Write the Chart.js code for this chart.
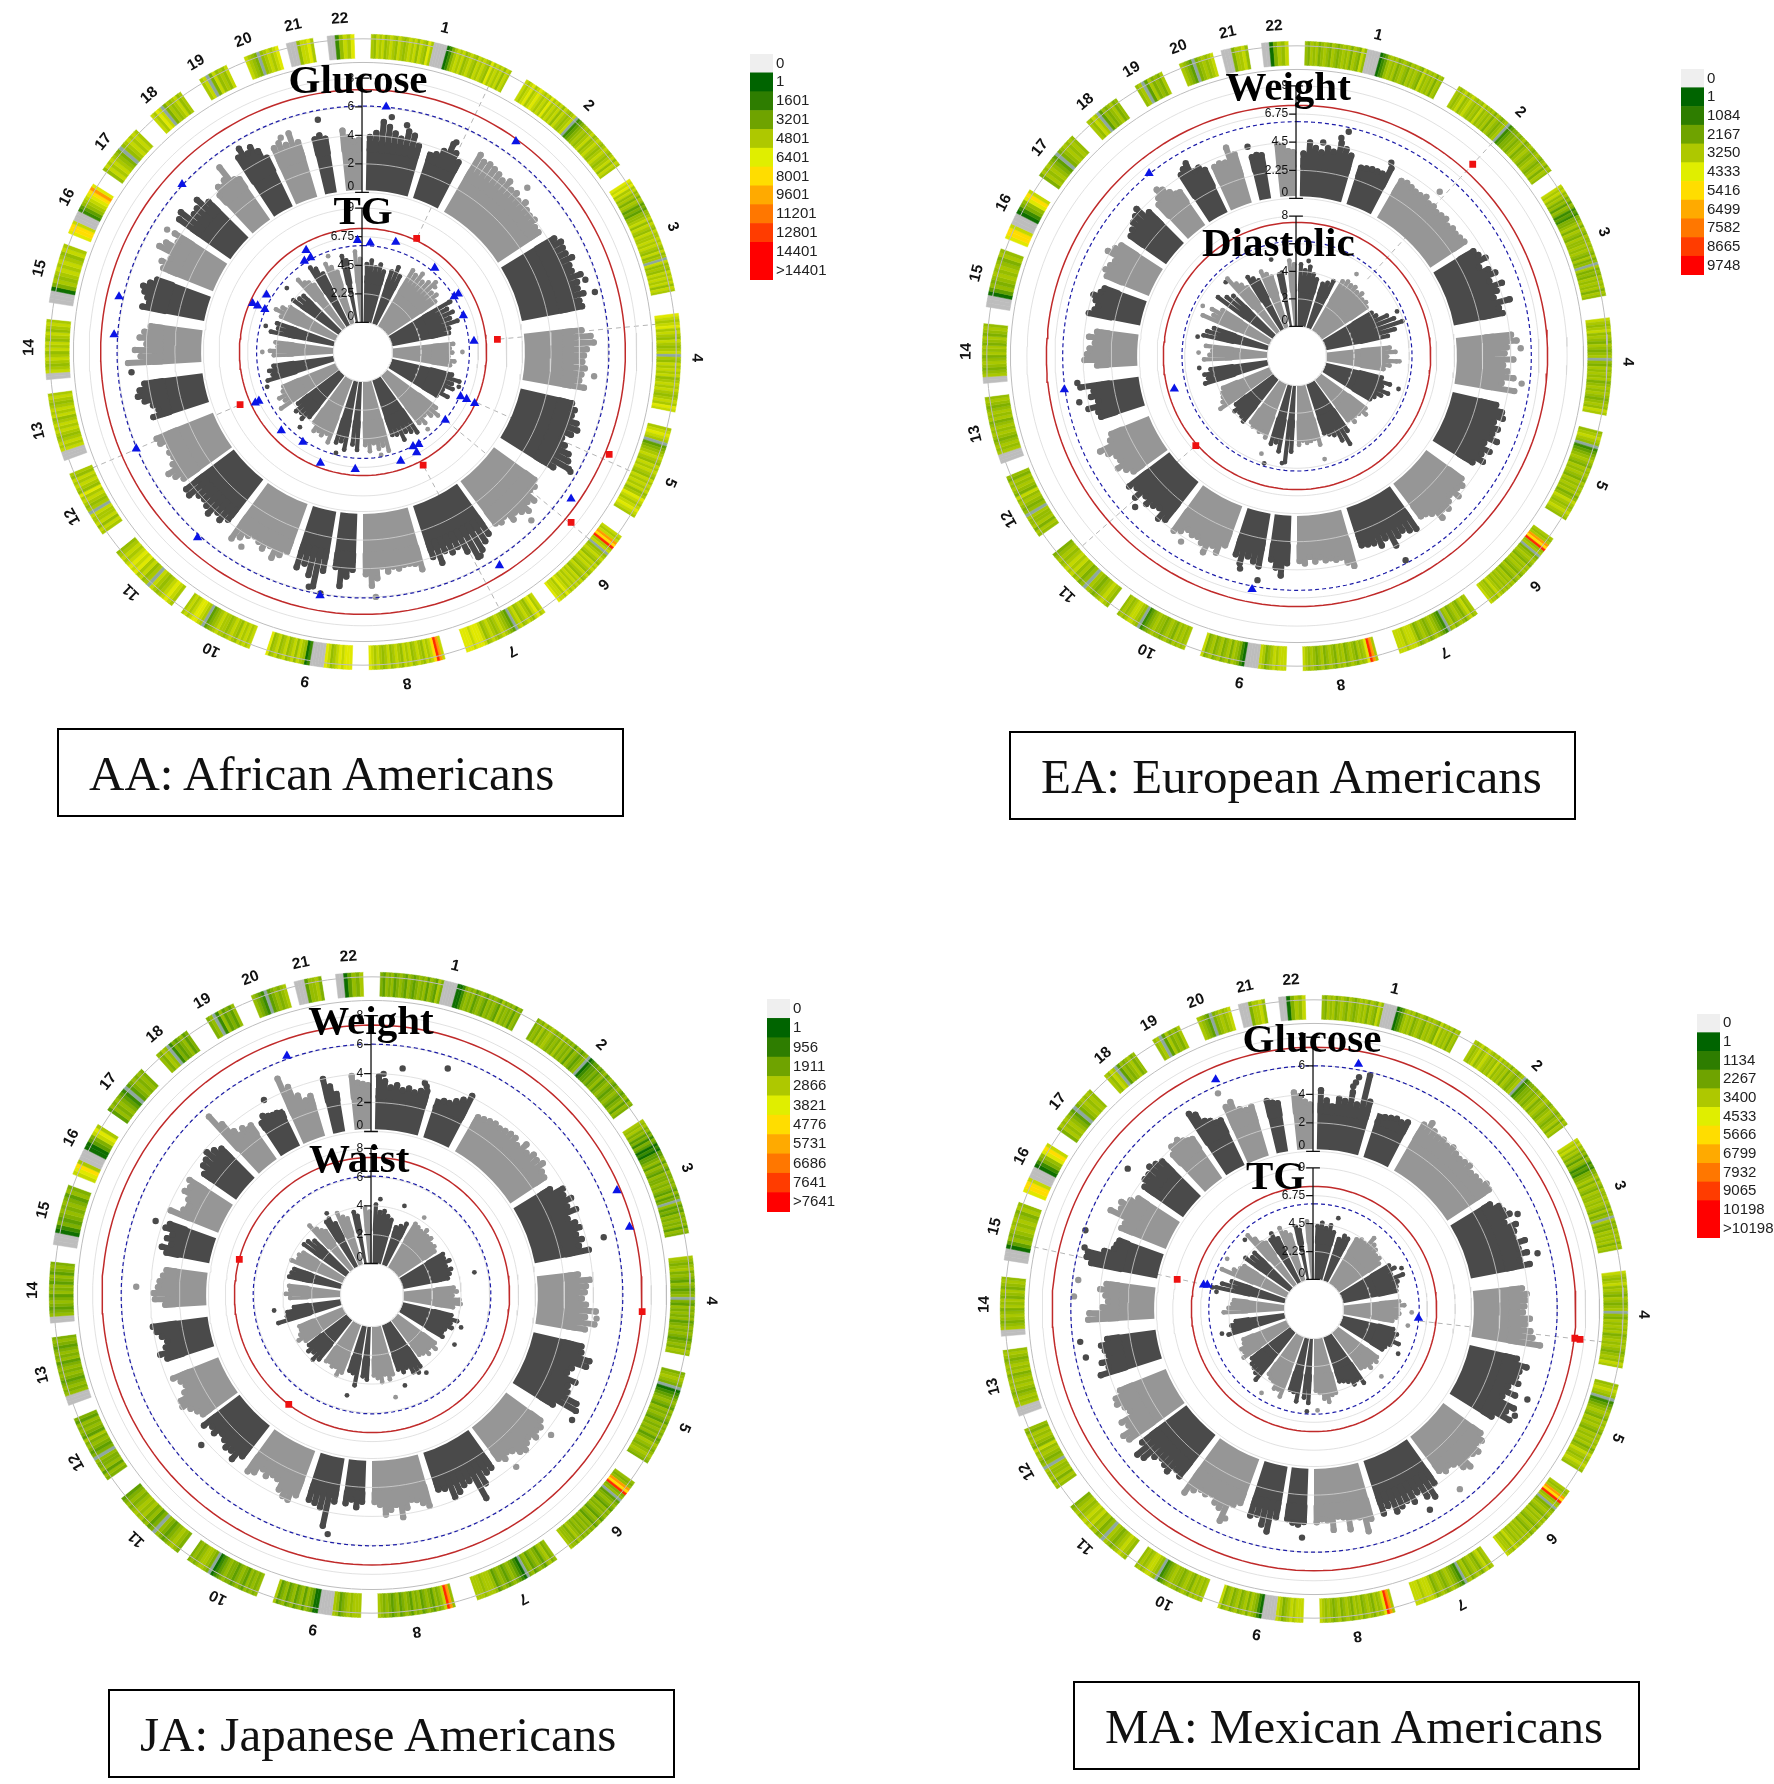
<!DOCTYPE html>
<html>
<head>
<meta charset="utf-8">
<title>Circular Manhattan plots</title>
<script src="https://cdn.jsdelivr.net/npm/chart.js@4"></script>
<style>
body { margin: 0; background: #fff; width: 1774px; height: 1784px; position: relative; overflow: hidden; }
canvas { position: absolute; }
.caption { position: absolute; box-sizing: border-box; border: 2px solid #000; width: 567px; height: 89px; background: #fff;
  font: 49px "Liberation Serif", serif; color: #111; line-height: 87px; padding-left: 30px; white-space: nowrap; }
</style>
</head>
<body>
<div class="caption" style="left:57px;top:728px">AA: African Americans</div>
<div class="caption" style="left:1009px;top:731px">EA: European Americans</div>
<div class="caption" style="left:108px;top:1689px">JA: Japanese Americans</div>
<div class="caption" style="left:1073px;top:1681px">MA: Mexican Americans</div>
<script>
// chromosome ring layout, degrees clockwise from the top
var chromNames = ['1','2','3','4','5','6','7','8','9','10','11','12','13','14','15','16','17','18','19','20','21','22'];
var chromStart = [1.5,31,57,83,104,125.5,145,165,182,201,217,235,250,265,279,292,305,318,329,338,346,353.5];
var chromEnd = [28,54,79,101,121.5,142,161,179,198,215,231,247.5,262.5,276,290,302,314.5,325,334.6,344.5,351,358.5];
var labelAngle = [14.2,42.5,68,91,113,134,153.5,172.4,190,207,224,240.5,256.4,270.8,284.5,297.6,309,320.2,330,339,347.9,356];

// blocks of the manhattan tracks (1 and 9 are split at the centromere)
var blockStart = [1,18,30,58.5,83.5,103,126,144.5,164,182,189.5,200,218,234,252,266.5,281,292,305,317,326.7,335.6,346.5,354];
var blockEnd = [16,27.5,56.5,79,100,122,143,162,180,188,198,216,233,248,262.5,277.7,290,303,315,325,334.3,343.6,350.7,359.6];
var blockShade = [0,0,1,0,1,0,1,0,1,0,0,1,0,1,0,1,0,1,0,1,0,1,0,1];

// gene density ring, one character per stripe (c = centromere, g = grey stripe)
var heatAA = [
 '65767567657656767576586ccccc1246767567657676586767576','7678678767686767576567g2345656756765676567576','87867564653435567576576676765756g756576767576','876786765765 67g6576767567676567687'.replace(' ',''),
 '67876g34567657676576767568767876','767a9b67g5676576765765767676786778','76875676576g3456765676578887888','7ab9767567657675676576567678',
 '8887876578ccccc2156757657657658','76767567656676543g67887676','67876567g657687876765','6757667g6567685676756',
 'ccc7676567676576765676','cc76567657675675676','ccc146567676576','8997ccc2356789a8','5767654g567676','7687g4656756','67g475657','7654g567678','ccc57786','cc25768'];
var heatEA = [
 '54656456546545656465475ccccc1235656456546565475656465','6567567656575656465456g2344545645654565456465','76756453542324456465465565654645g645465656465','7656756546545 6g5465656456565456576'.replace(' ',''),
 '56765g23456546565465656457656765','656a9b56g4565465654654656565675667','65764565465g2345654565467776777','6ab8656456546564565465456567',
 '7776765467ccccc1245646546546547','65656456545565432g56776565','56765456g546576765654','5646556g5456574565645',
 'ccc6565456565465654565','cc65456546564564565','ccc135456565465','8997ccc1245897','4656543g456565','6576g3545645','56g364546','6543g456567','ccc46675','cc14657'];
var heatJA = [
 '43545345435434545354364ccccc1124545345435454364545354','4546456545464545354345g1233434534543454345354','65645342431213345354354454543534g534354545354','6545645435434 5g4354545345454345465'.replace(' ',''),
 '45654g12345435454354545346545654','545a9b45g3454354543543545454564556','54653454354g1234543454356665666','5ab7545345435453454354345456',
 '6665654356ccccc1134535435435436','54545345434454321g45665454','45654345g435465654543','4535445g4345463454534',
 'ccc5454345454354543454','cc54345435453453454','ccc124345454354','7896ccc1134786','3545432g345454','5465g2434534','45g253435','5432g345456','ccc35564','cc13546'];
var heatMA = heatEA;

// AA, outer track (Glucose)
var aaOuter = [[3.9,4.2,5,4.7,4.3,4,4.6,4.4,3.8],[3.4,3.6,4,4.7,4.2,3.7],
 [4.9,4.6,4.7,4.6,4.5,4.3,4.6,4.2,4.3,4,4.3,4,3.9,4,3.7,3.7],[4.4,4.7,4.6,4.6,4.9,4.5,4.5,5,4.6,4.5,4.8,4.4,4.5],
 [4.2,4.8,5,4.5,4.3,4.2,4.4,4.2,4.1,4.5],[3.9,4.2,4.1,4.6,4.8,4.5,4,4.4,4.9,5.1,5.4,4.4],
 [3.8,4.1,4,4.7,4.4,4.9,4.6,4.3,4.6,4,4.2,4],[4.3,4.6,5,5.3,4.6,4,4.2,3.9,4.6,4],
 [4.6,4.1,4,4,4.2,4,4.3,3.9,4.7,5.2,4.4],[4.1,4.6,5.3,4],[4.4,5.6,4.9,4.2,4.6],
 [3.8,4.2,4.6,3.9,4.3,4,3.8,4,4.4,4.8],[3.9,4.3,4,4.5,4.2,4,4.1,4.6,4.5],[4.2,4.6,4.9,4.3,4,4.1,3.9,4.4,4.5],
 [4.2,3.7,4,4.5,4.9,4.7,4.3],[5.3,4.4,4.8,4,4.5,4.2,3.8],[4.6,4.2,4.4,4.7,4.9,4.5,4.1],[4,4.3,3.8,4.9,4.6,3.9,4.4],
 [4.7,4.9,4.1,4.2,4.6,3.9],[3.7,4.2,4,4.3,5.2,3.9,3.7],[5,5.5,4.9,5.2,4.7,4],[4.4,4.6,4.3,5,4.2],[4.1,4.3,4],[4.4,3.9,3.6,3.7]];
var aaOuterDots = [[7,5.4],[11,5],[24,4.9],[45,5.1],[72,5.2],[75.5,5.6],[96,5.1],[120,5.6],[135,5.5],[150,5.3],[177,6],[190,6],[193,5.7],[212,4.9],[265,5.1],[302,5],[339,4.9],[349,5.4]];
// AA, inner track (TG)
var aaInner = [[4.6,4.9,4.4,4.7,4.2],[4.4,4.9,4.3],[5.2,5,5.4,4.9,5.2,5.6,4.8,5,4.6],[5.5,5.1,5.4,5,5.5,4.7,4.6],
 [4.8,4.5,4.7,4.4,4.9,4.6],[4.9,5.6,5.1,5.3,4.6,5.2,4.4],[4.9,5.4,5,4.6,5.1,4.8],[5.3,5,4.8,5.3,4.7,4.6],
 [5.7,5.2,5.4,4.9,5.5,5],[5.4,5],[5.5,4.9,5.1],[5.3,4.7,5,4.8,5,4.4],[4.3,4.8,4.5,4.7,4.2],[5.5,4.9,5.2,4.7,4.5],
 [5.5,5,5.2,4.8],[4.7,5,4.4,4.6],[5.1,4.6,4.8],[4.7,5.3,4.9,4.4],[4.5,4.2,4.1],[5.3,4.8,4.6,4.2],[5.5,5.2,4.6],[5.2,4.8,4.3],[5.4,5],[5.6,5]];
var aaInnerDots = [[48,5.3],[60,5.6],[90,5.5],[110,5.7],[140,5.6],[170,5.9],[195,5.9],[220,5.4],[250,5.7],[270,5.6],[285,5.6],[310,5.5],[340,5.7]];
// EA, outer track (Weight)
var eaOuter = [[3.6,4.5,4.1,3.8,4.2,4,4.8,4.4,4],[3.3,3.4,3.5,3.5,3.5,4.2],[3.7,3.8,3.7,3.6,3.6,3.8,3.5,3.6,3.4,3.5,3.6,3.3,3.5,3.4,3.5,3.6],
 [3.8,4,4.4,3.6,4.2,4.6,3.9,4.8,4.2,3.8,5,4,4.2],[4.6,5,4.2,4,4.7,3.9,4.3,4.8,3.9,5],[3.8,4.4,4.6,4,4.5,4.2,4.8,3.9,4.6,4.1,4.5,3.8],
 [3.8,4.2,4,4.5,3.9,4.2,4.6,4.3,4.8,4,3.7,3.6],[4.2,4,3.7,3.9,4.5,3.6,4,3.6,3.5,3.4],[4.8,4.4,3.9,4,3.8,3.9,3.6,3.9,3.5,4,3.8],[4,5,4.4,3.8],[4.5,4.2,3.9,4.6,4],
 [3.6,4.4,4,4.8,4.2,3.9,4,3.8,4.2,4.5],[4.2,4.5,3.8,4,4.3,3.9,4.6,4,4.4],[3.4,3.8,4.3,3.8,3.9,4.4,4.9,3.8,3.5],[3.8,3.9,4.6,3.7,4.2,3.9,4.9],[3.4,4.4,4.2,4,3.6,4.1,3.5],
 [4.4,4,3.8,4.1,4.4,3.9,3.7],[3.9,4.2,4,3.8,4.7,4.3,4],[3.8,4,4.3,4.5,4.8,3.9],[3.8,4.2,4.8,4.5,4,3.6,3.5],[4.6,4.9,5,4.3,4.4,4],[3.9,4,3.9,5,4.3],[3.7,3.8,3.7],[4.4,4.2,3.8,3.7]];
var eaOuterDots = [[13,5.8],[11.5,5.2],[7,4.6],[26,4.6],[41,4.8],[88,5.3],[97,5.5],[152,5.9],[190,5.6],[195,5],[212,4.9],[227,5.1],[258,5.2],[263,5.1],[346.7,4.6],[330,5.2]];
// EA, inner track (Diastolic)
var eaInner = [[4.5,4.1,4.4,3.9,3.6],[3.4,3.6,3.9],[4.2,4.4,4.3,4.4,4.2,4.4,4.1,4.2,4],[4.1,4.3,5,5.4,5.9,5.2,4.6],[4.6,5,4.4,5.1,4.6,4.2],[4.2,4.9,4.4,5,4.6,4.2,4],
 [4.1,4.4,4,3.9,4.2,3.8],[4.4,5.3,4.8,4.2,4,3.8],[4.5,4,4.1,4.2,4,4.3],[4.8,5.6],[4.9,4.3,4.5],[4.2,3.9,4,3.8,3.9,3.7],[4,3.8,3.7,3.9,3.5],[4.6,4.2,4,3.9,3.7],
 [4.8,4.5,4.7,4.2],[4.6,4.2,4,4.5],[4.8,4.6,4.2],[5.3,4.6,4.9,4.2],[5,4.5,4.2],[5.4,4.7,4.4,4],[4.6,4.3,4],[4.5,4.2,3.9],[3.9,4],[4.8,4.5]];
var eaInnerDots = [[7,4.8],[36,5.2],[66,5.8],[93,5.3],[108,5.6],[165,5.6],[188,5.7],[197,6],[200,5.4],[263,5],[272,5],[281,5.2],[298,5.6],[316,5.3],[345,5.1]];
// JA, outer track (Weight)
var jaOuter = [[3.8,3.5,3.1,3.3,3,3.2,3,3.2,3.3],[2.4,3,3,3.3,3.6,4.1],[3,3.1,3.2,3.3,3.2,3.3,3.4,3.4,3.1,3.6,3.2,3.5,3.4,3.6,3.2,3.1],[3,3.8,3.6,4,3.5,4,3.2,3.6,3.8,3.4,3.7,3.4,4],
 [3,3.8,3.5,3.4,3.2,3.5,4.2,3.5,4.2,3.6],[3.6,3.7,4.4,4.3,3.4,3.2,4,3.6,3.8,4.7,4.9,3.3],[3.2,3.5,3.4,3.7,3.3,3.5,3.8,3.6,3.2,3,3.3,3],[3.2,3.3,3.9,4.8,3.2,3.3,3.6,3.8,3,2.9],
 [3.8,3.5,3.2,3.1,3.6,4.2,3.3,3.6,3.9,3.2,3],[3,3.4,2.9,3.2],[3.2,5,3.8,3.6,3.5],[3.5,4,3.9,3.6,3,2.9,3.2,2.9,3.4,3.6],[3,3.6,3.2,3.3,3,2.8,3.2,3,3.4],[3,3.2,3.5,3.9,3.8,3.3,3,3.2,3.6],
 [3.5,3.9,3.4,3.2,3.5,3.8,4],[3,3.7,3.8,3.5,3.4,3.2,3],[3.2,3.6,3,3.4,3.1,3.7,3.5],[3.8,3,2.7,3,3.5,3.3,3.6],[3,3.4,3.5,3.8,3.5,3.2],[5.4,4.4,3.5,3,3.3,3,3.1],[2.8,3.2,3,2.9,2.9,2.7],[5,4.2,3.4,2.9,3.1],[4,3.4,2.8],[3.9,3.4,3.3,3.2]];
var jaOuterDots = [[7.7,4.5],[3,4],[14,3.8],[14.7,3.6],[18.5,5.2],[76,5.2],[96,4.3],[190.5,5.5],[228.7,4.4],[272,5],[288.9,4.5],[331,4.1],[122,5],[128,4.4],[140,4.2]];
// JA, inner track (Waist)
var jaInner = [[4.1,3.6,3.7,3.4,3.2],[2.8,3,3.3],[3.6,3.5,3.4,3.7,3.4,3.5,3.2,3.3,3.1],[3.5,3.4,3.7,3.3,3.6,3.4,3.2],[3.5,3.7,3.4,3.9,4,3.5],[3.5,4,3.6,3.8,3.4,3.3,3.5],
 [3.3,3.6,3.2,3.5,3.2,3.1],[3.8,4.1,3.9,3.4,3.6,3.3],[3.5,3.8,3.4,3.9,3.6,3.4],[3.7,3.5],[4.2,3.4,3.3],[3.6,3.9,3.4,3.5,3.3,3.4],[3.6,3.9,3.5,3.7,3.4],[3.4,3.8,3.5,3.3,3.3],
 [4.6,3.9,3.8,3.3],[3.5,3.8,3.5,3.6],[3.7,3.6,3.5],[3.9,3.5,3.6,3.4],[3.7,3.6,3.3],[4.3,3.8,3.5,3.3],[3.8,3.9,3.4],[4,3.6,3.4],[3.7,3.4],[3.9,3.6]];
var jaInnerDots = [[77.5,5.1],[261,4.7],[194,5],[167,5.1],[5,4.5],[20,4.4],[34,4.3],[110,4.4],[121,4.5],[145,4.4],[160,4.5],[331,4.3]];
// MA, outer track (Glucose)
var maOuter = [[4.3,3.6,3.2,3.8,3.7,4.4,3.6,5.8,4],[2.8,3.3,3.4,3.5,3.4,3.6],[4,4.4,4,3.8,3.9,3.7,3.9,3.7,3.6,3.7,3.8,3.5,3.6,3.6,3.9,3.8],[3.3,3.8,3.9,4.2,3.6,4.3,4,3.8,4.5,3.9,4.4,3.8,4.4],
 [3.6,3.9,3.8,3.7,3.6,4.1,3.8,4.2,4.4,5],[3.6,4.4,4,3.9,4.2,3.6,4.3,3.5,4.6,4.2,4.7,3.5],[3.5,3.9,3.7,4.2,4,3.8,4.5,4.2,3.6,3.4,3.6,3.3],[3.8,4.6,4.3,3.7,4.2,3.9,4.1,4.3,3.7,4.1],
 [4.2,5,3.9,3.8,4.6,3.7,3.6,4.5,3.8,3.7,3.9],[3.9,4.1,4,3.8],[3.8,4.9,4.5,3.9,4.1],[3.5,3.8,5.2,4.4,4.2,3.8,4,3.9,4.2,4.7],[4,3.8,4.3,4.1,3.9,4.2,4.8,5,4.2],[4.8,5,4.3,4.6,3.7,3.9,4.3,4.2,3.7],
 [4.6,3.9,4.3,3.7,3.9,4.1,3.6],[4.8,4.7,3.8,3.4,3.6,4,3.6],[4.9,5.3,5.3,4.2,3.6,3.5,3.4],[3.6,3.5,4.8,4.2,4.4,3.9,3.5],[3.6,3.9,3.9,4.2,4,3.8],[3.6,4.1,4,4.2,3.9,3.7,3.6],[5.2,4.9,4.2,4,3.7,3.7],[4.4,4.6,3.9,3.7,3.8],[3.9,3.7,3.6],[4.2,3.9,3.5,3.3]];
var maOuterDots = [[11,5.5],[10.5,5.1],[10,4.8],[65,4.7],[76,5.1],[118,4.9],[113,5.2],[141,5.2],[150,5.2],[183,5],[203,4.9],[258,5.3],[262,5.5],[273,5.8],[277,5.6],[289,5.9],[285,5.6],[307,5.3],[336,5.5]];
// MA, inner track (TG)
var maInner = [[4.3,4.6,4.2,4.5,4],[3.6,4,3.9],[4.2,4.4,4.3,5.1,4.7,4.5,4.2,4.3,4],[4.6,4.9,4.4,5.3,4.7,4.5,4.4],[4.5,4.9,4.4,4.5,4.3,4],[4.2,4.6,4.4,5,4.4,4.1,4],[4,4.2,3.9,4.2,3.8,3.7],
 [4.8,4.3,4.5,4.1,3.9,3.8],[4.6,4.7,5.2,4.9,4.4,4.2],[5.2,4.8],[5.2,4.5,4.4],[5.2,4.7,4.8,4.3,4.2,4],[5,4.6,4.4,4.3,4],[4.5,4.2,4.3,3.9,3.8],[4.8,4.3,4.4,4],[4.9,4.5,4.2,4.1],[5.7,5.3,4.6],[5.7,4.8,4.4,4.2],[4.5,4.1,4.2],[5.6,5,4.4,4.2],[4.2,4.6,4],[4.7,4.2,3.9],[4.4,4.1],[4.7,4.3]];
var maInnerDots = [[15,5.2],[65,5.4],[92,5.5],[100,5.3],[118,5.3],[135,5.3],[178,5.8],[184,5.9],[212,5.6],[255,5.3],[282,6],[280,5.6],[315,5.5],[300,5.7]];

// hits above the two thresholds, [angle, value]
var aaOuterTriangles = [[5.4,6.07],[36,7.05],[125.2,6.66],[147.4,6.57],[190,6.14],[221.7,6.24],[246.9,6.09],[274,6.3],[282.8,6.35],[312.8,6.1]];
var aaOuterSquares = [[112.6,7.5],[129.3,7.66]];
var aaInnerTriangles = [[357.2,6.48],[3.8,6.28],[16.6,6.7],[40.5,6.37],[58.7,6.08],[58.6,6.47],[70,6.08],[84.4,6.45],[114.5,6.12],[114.5,6.64],[114.7,7.35],[129.6,6.08],[148.8,6.16],[152.1,6.09],[151.9,6.64],[160.9,6.75],[183.8,6.92],[201,7.03],[213.7,6.2],[226.1,6.6],[244.8,6.73],[244.7,7.05],[293.5,6.1],[293.7,6.73],[293.8,7.17],[300.6,6.5],[327.2,6.2],[331,6.18],[330.8,6.85]];
var aaInnerSquares = [[25.3,7.56],[84.6,8.3],[152,7.76],[246.8,8.2]];
var aaLinks = [[25.3,7.56],[84.6,8.3],[114,7.35],[129.6,6.08],[152,7.76],[246.8,8.2]];
var eaOuterTriangles = [[321,6.2],[261.8,6.2],[190.9,6.4]];
var eaOuterSquares = [[42.5,8.2]];
var eaInnerTriangles = [[255,7.07]];
var eaInnerSquares = [[228.5,7.66]];
var eaLinks = [[42.5,5.3],[228.5,7.66]];
var jaOuterTriangles = [[340.4,6.23],[66.9,7.1],[75.2,7.1]];
var jaOuterSquares = [[93.5,7.4]];
var jaInnerTriangles = [];
var jaInnerSquares = [[285,7.36],[217.3,7.36]];
var jaLinks = [];
var maOuterTriangles = [[10.3,6.4],[336.8,6.45]];
var maOuterSquares = [[96.4,7.35],[96.5,7.72]];
var maInnerTriangles = [[95,6.07],[282.3,6.73],[282.7,6.43]];
var maInnerSquares = [[282.2,8.9]];
var maLinks = [[96.5,6.07],[282.5,6.43]];

var ticksQuarter = [0,2.25,4.5,6.75,9];
var ticksEven = [0,2,4,6,8];

// colour key
var aaKeyLabels = ['0','1','1601','3201','4801','6401','8001','9601','11201','12801','14401','>14401'];
var eaKeyLabels = ['0','1','1084','2167','3250','4333','5416','6499','7582','8665','9748'];
var jaKeyLabels = ['0','1','956','1911','2866','3821','4776','5731','6686','7641','>7641'];
var maKeyLabels = ['0','1','1134','2267','3400','4533','5666','6799','7932','9065','10198','>10198'];
var keyColors = ['#efefef','#006400','#2e7d00','#6fa300','#aec800','#e0ee00','#ffdd00','#ffaa00','#ff7700','#ff3c00','#ff0000','#ff0000'];

var heatColors = {1:'#0f6e00',2:'#3a8a00',3:'#5f9f00',4:'#7fb000',5:'#96bd00',6:'#aac800',7:'#c4d800',8:'#e0e800',9:'#ffdd00',a:'#ff9a00',b:'#ff2a00',g:'#8fa8a0',c:'#bdbdbd'};
var DARK = '#4a4a4a', LIGHT = '#969696';

var panels = [
  { cx:363, cy:352, R:318, key:{x:750,y:54,h:226}, heat:heatAA, links:aaLinks,
    outer:{r0:162,unit:14.5,band:3.4,tips:aaOuter,dots:aaOuterDots,tri:aaOuterTriangles,sq:aaOuterSquares,blue:6.05,red:7.2,ticks:ticksEven,gridTicks:[2,4,6,8]},
    inner:{r0:30,unit:12.9,band:3.6,tips:aaInner,dots:aaInnerDots,tri:aaInnerTriangles,sq:aaInnerSquares,blue:6.05,red:7.4,ticks:ticksQuarter,gridTicks:[2.25,4.5,6.75,9]},
    titles:[['Glucose',-5,-263],['TG',0,-130]], keyLabels:aaKeyLabels },
  { cx:1297, cy:356, R:315, key:{x:1681,y:69,h:206}, heat:heatEA, links:eaLinks,
    outer:{r0:160,unit:12.7,band:3,tips:eaOuter,dots:eaOuterDots,tri:eaOuterTriangles,sq:eaOuterSquares,blue:6.14,red:7.44,ticks:ticksQuarter,gridTicks:[2.25,4.5,6.75,9]},
    inner:{r0:30,unit:14,band:3,tips:eaInner,dots:eaInnerDots,tri:eaInnerTriangles,sq:eaInnerSquares,blue:6.2,red:7.55,ticks:ticksEven,gridTicks:[2,4,6,8]},
    titles:[['Weight',-9,-260],['Diastolic',-19,-102]], keyLabels:eaKeyLabels },
  { cx:371.5, cy:1295, R:323, key:{x:767,y:999,h:213}, heat:heatJA, links:jaLinks,
    outer:{r0:166,unit:14.7,band:2.8,tips:jaOuter,dots:jaOuterDots,tri:jaOuterTriangles,sq:jaOuterSquares,blue:6.03,red:7.35,ticks:ticksEven,gridTicks:[2,4,6,8]},
    inner:{r0:32,unit:14.6,band:2.7,tips:jaInner,dots:jaInnerDots,tri:jaInnerTriangles,sq:jaInnerSquares,blue:6.07,red:7.37,ticks:ticksEven,gridTicks:[2,4,6,8]},
    titles:[['Weight',-1,-265],['Waist',-13,-125]], keyLabels:jaKeyLabels },
  { cx:1314, cy:1309, R:314, key:{x:1697,y:1014,h:224}, heat:heatMA, links:maLinks,
    outer:{r0:160,unit:14.5,band:3.2,tips:maOuter,dots:maOuterDots,tri:maOuterTriangles,sq:maOuterSquares,blue:6,red:7.3,ticks:ticksEven,gridTicks:[2,4,6,8]},
    inner:{r0:30,unit:12.6,band:3.4,tips:maInner,dots:maInnerDots,tri:maInnerTriangles,sq:maInnerSquares,blue:6.1,red:7.5,ticks:ticksQuarter,gridTicks:[2.25,4.5,6.75,9]},
    titles:[['Glucose',-2,-261],['TG',-39,-122]], keyLabels:maKeyLabels }
];

function rad(d) { return d * Math.PI / 180; }
function at(angle, r) { return { x: r * Math.sin(rad(angle)), y: r * Math.cos(rad(angle)) }; }
function trackR(t, v) { return t.r0 + v * t.unit; }
var GAP = { x: NaN, y: NaN };

function ringCells(heat) {
  var vals = [], cols = [], pos = 0;
  chromNames.forEach(function (c, i) {
    vals.push(chromStart[i] - pos); cols.push('#ffffff');
    var w = (chromEnd[i] - chromStart[i]) / heat[i].length;
    heat[i].split('').forEach(function (k) { vals.push(w); cols.push(heatColors[k]); });
    pos = chromEnd[i];
  });
  vals.push(360 - pos); cols.push('#ffffff');
  return { data: vals, backgroundColor: cols, borderColor: cols, borderWidth: 0.5 };
}
function bandCells() {
  var vals = [], cols = [], pos = 0;
  blockStart.forEach(function (s, i) {
    vals.push(s - pos); cols.push('rgba(255,255,255,1)');
    vals.push(blockEnd[i] - s); cols.push(blockShade[i] ? LIGHT : DARK);
    pos = blockEnd[i];
  });
  vals.push(360 - pos); cols.push('rgba(255,255,255,1)');
  return { data: vals, backgroundColor: cols, borderWidth: 0 };
}
function spacer() { return { data: [1], backgroundColor: ['rgba(0,0,0,0)'], borderWidth: 0 }; }

function circle(r) {
  var pts = [];
  for (var a = 0; a <= 360; a += 2) pts.push(at(a, r));
  return pts;
}
function line(pts, color, width, order, dash) {
  return { data: pts, showLine: true, borderColor: color, borderWidth: width, borderDash: dash || [], pointRadius: 0, order: order, tension: 0 };
}
// one radial stroke per read tip, with a dot on its end
function spikes(t, shade, lw, dot) {
  var pts = [];
  t.tips.forEach(function (arr, b) {
    if (blockShade[b] !== shade) return;
    arr.forEach(function (v, i) {
      var a = blockStart[b] + (i + 0.5) / arr.length * (blockEnd[b] - blockStart[b]);
      pts.push(at(a, trackR(t, t.band - 0.4)), at(a, trackR(t, v)), GAP);
    });
  });
  return { data: pts, showLine: true, borderColor: shade ? LIGHT : DARK, borderWidth: lw, borderCapStyle: 'round', order: 6, tension: 0,
    pointBackgroundColor: shade ? LIGHT : DARK, pointBorderWidth: 0,
    pointRadius: function (c) { return c.dataIndex % 3 === 1 ? dot : 0; } };
}
function looseDots(t, dot) {
  var dark = [], light = [];
  t.dots.forEach(function (d) {
    var b = blockStart.findIndex(function (s, i) { return d[0] >= s - 1.2 && d[0] <= blockEnd[i] + 1.2; });
    (blockShade[b] ? light : dark).push(at(d[0], trackR(t, d[1])));
  });
  return [light, dark].map(function (pts, i) {
    return { data: pts, pointRadius: dot, pointBackgroundColor: i ? DARK : LIGHT, pointBorderWidth: 0, order: 6 };
  });
}
function markers(pts, style, color, size) {
  return { data: pts, pointStyle: style, pointRadius: size, pointBackgroundColor: color, pointBorderWidth: 0, order: 0 };
}
function axis(t) {
  var top = trackR(t, t.ticks[t.ticks.length - 1]);
  var pts = [{ x: -1, y: t.r0 }, { x: -1, y: top }, GAP];
  t.ticks.forEach(function (v) { pts.push({ x: -8, y: trackR(t, v) }, { x: -1, y: trackR(t, v) }, GAP); });
  pts.push({ x: -1, y: t.r0 }, { x: 6, y: t.r0 }, GAP, { x: -1, y: top }, { x: 6, y: top });
  return line(pts, '#111', 1.3, 1);
}

panels.forEach(function (p) {
  var half = p.R + 38;
  var scale = p.R / 318;

  function addCanvas() {
    var c = document.createElement('canvas');
    c.width = c.height = half * 2;
    c.style.left = (p.cx - half) + 'px';
    c.style.top = (p.cy - half) + 'px';
    c.style.width = c.style.height = half * 2 + 'px';
    document.body.appendChild(c);
    return c;
  }
  var xyScales = {
    x: { type: 'linear', min: -half, max: half, display: false },
    y: { type: 'linear', min: -half, max: half, display: false }
  };
  var quiet = { legend: { display: false }, tooltip: { enabled: false } };

  var ringIn = p.R - 24;

  // dashed links go under the tracks, so they get their own bottom canvas
  new Chart(addCanvas(), {
    type: 'scatter',
    data: { datasets: p.links.map(function (l) {
      return line([at(l[0], trackR(p.inner, l[1])), at(l[0], ringIn)], '#b4b4b4', 1, 5, [5, 4]);
    }) },
    options: { responsive: false, animation: false, events: [], layout: { padding: 0 }, scales: xyScales, plugins: quiet }
  });

  // rings: gene density, then the solid part of both tracks
  var outerTop = trackR(p.outer, p.outer.band), innerTop = trackR(p.inner, p.inner.band);
  var rings = [ringCells(p.heat), spacer(), bandCells(), spacer(), bandCells()];
  rings[2].backgroundColor = rings[2].backgroundColor.map(function (c) { return c === DARK || c === LIGHT ? c : 'rgba(0,0,0,0)'; });
  rings[4].backgroundColor = rings[4].backgroundColor.map(function (c) { return c === DARK || c === LIGHT ? c : 'rgba(0,0,0,0)'; });
  var weights = [24, ringIn - outerTop, outerTop - p.outer.r0, p.outer.r0 - innerTop, innerTop - p.inner.r0];
  rings.forEach(function (r, i) { r.weight = weights[i]; });
  new Chart(addCanvas(), {
    type: 'doughnut',
    data: { datasets: rings },
    options: { responsive: false, animation: false, events: [], rotation: 0, cutout: p.inner.r0,
      layout: { padding: 38 }, plugins: quiet }
  });

  // everything else on x/y scales in pixels from the panel centre
  var ds = [];
  [p.outer, p.inner].forEach(function (t, n) {
    var lw = n ? 4.2 : 6, dot = n ? 2.4 : 3.2;
    ds.push(spikes(t, 0, lw, dot), spikes(t, 1, lw, dot));
    ds = ds.concat(looseDots(t, dot));
    t.gridTicks.concat([0]).forEach(function (v) { ds.push(line(circle(trackR(t, v)), 'rgba(215,215,215,0.75)', 1, 4)); });
    ds.push(line(circle(trackR(t, t.red)), '#c02a2a', 1.5, 2));
    ds.push(line(circle(trackR(t, t.blue)), '#1c1ca8', 1.2, 2, [4, 3]));
    ds.push(axis(t));
    var toXY = function (m) { return at(m[0], trackR(t, m[1])); };
    ds.push(markers(t.tri.map(toXY), 'triangle', '#0a14e6', 5.4));
    ds.push(markers(t.sq.map(toXY), 'rect', '#ee1111', 4.8));
  });
  ds.push(line(circle(p.R), '#bdbdbd', 1, 3), line(circle(ringIn), '#bdbdbd', 1, 3));

  var textPlugin = {
    id: 'panelText',
    afterDatasetsDraw: function (chart) {
      var ctx = chart.ctx, sx = chart.scales.x, sy = chart.scales.y;
      ctx.save();
      ctx.textAlign = 'center'; ctx.textBaseline = 'middle'; ctx.fillStyle = '#111';
      ctx.font = 'bold 15.5px "Liberation Sans", Arial, sans-serif';
      chromNames.forEach(function (name, i) {
        var pos = at(labelAngle[i], 339 * scale);
        ctx.save();
        ctx.translate(sx.getPixelForValue(pos.x), sy.getPixelForValue(pos.y));
        ctx.rotate(rad(labelAngle[i]));
        ctx.fillText(name, 0, 0);
        ctx.restore();
      });
      ctx.textAlign = 'right';
      ctx.font = '12px "Liberation Sans", Arial, sans-serif';
      [p.outer, p.inner].forEach(function (t) {
        t.ticks.forEach(function (v) {
          var off = v === 0 ? 6 : 0;
          ctx.fillText(String(v), sx.getPixelForValue(-9), sy.getPixelForValue(trackR(t, v) + off));
        });
      });
      ctx.textAlign = 'center'; ctx.textBaseline = 'alphabetic'; ctx.fillStyle = '#000';
      ctx.font = 'bold 41px "Liberation Serif", serif';
      p.titles.forEach(function (tt) {
        ctx.fillText(tt[0], sx.getPixelForValue(tt[1]), sy.getPixelForValue(-tt[2]));
      });
      ctx.restore();
    }
  };

  new Chart(addCanvas(), {
    type: 'scatter',
    data: { datasets: ds },
    plugins: [textPlugin],
    options: { responsive: false, animation: false, events: [], layout: { padding: 0 }, scales: xyScales, plugins: quiet }
  });

  // colour key, a one-column bar chart
  var kc = document.createElement('canvas');
  kc.width = 110; kc.height = p.key.h;
  kc.style.left = p.key.x + 'px'; kc.style.top = p.key.y + 'px';
  kc.style.width = '110px'; kc.style.height = p.key.h + 'px';
  document.body.appendChild(kc);
  new Chart(kc, {
    type: 'bar',
    data: { labels: p.keyLabels, datasets: [{ data: p.keyLabels.map(function () { return 1; }), backgroundColor: keyColors.slice(0, p.keyLabels.length),
      barPercentage: 1, categoryPercentage: 1, borderWidth: 0 }] },
    options: { indexAxis: 'y', responsive: false, animation: false, events: [], layout: { padding: 0, autoPadding: false },
      scales: {
        x: { min: 0, max: 1, display: false },
        y: { position: 'right', afterFit: function (s) { s.width = 87; s.paddingTop = 0; s.paddingBottom = 0; }, grid: { display: false, drawTicks: false }, border: { display: false },
          ticks: { autoSkip: false, padding: 3, color: '#222', font: { family: '"Liberation Sans", Arial, sans-serif', size: 15 } } }
      },
      plugins: quiet }
  });
});
</script>
</body>
</html>
